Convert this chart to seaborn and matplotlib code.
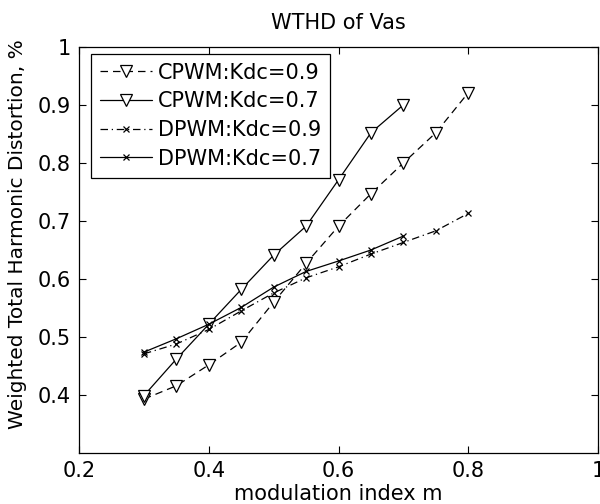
import matplotlib
matplotlib.use("Agg")
import matplotlib.pyplot as plt
import seaborn as sns
import pandas as pd

m_cpwm09 = [0.30, 0.35, 0.40, 0.45, 0.50, 0.55, 0.60, 0.65, 0.70, 0.75, 0.80]
cpwm09 = [0.393, 0.416, 0.452, 0.491, 0.560, 0.627, 0.691, 0.747, 0.800, 0.852, 0.921]
m_cpwm07 = [0.30, 0.35, 0.40, 0.45, 0.50, 0.55, 0.60, 0.65, 0.70]
cpwm07 = [0.399, 0.462, 0.522, 0.582, 0.641, 0.691, 0.771, 0.852, 0.900]
m_dpwm09 = [0.30, 0.35, 0.40, 0.45, 0.50, 0.55, 0.60, 0.65, 0.70, 0.75, 0.80]
dpwm09 = [0.471, 0.488, 0.513, 0.545, 0.576, 0.602, 0.621, 0.643, 0.663, 0.683, 0.713]
m_dpwm07 = [0.30, 0.35, 0.40, 0.45, 0.50, 0.55, 0.60, 0.65, 0.70]
dpwm07 = [0.474, 0.497, 0.522, 0.551, 0.586, 0.613, 0.631, 0.650, 0.674]

labels = ["CPWM:Kdc=0.9", "CPWM:Kdc=0.7", "DPWM:Kdc=0.9", "DPWM:Kdc=0.7"]
xticks = [0.2, 0.4, 0.6, 0.8, 1.0]
xticklabels = ["0.2", "0.4", "0.6", "0.8", "1"]
yticks = [0.4, 0.5, 0.6, 0.7, 0.8, 0.9, 1.0]
yticklabels = ["0.4", "0.5", "0.6", "0.7", "0.8", "0.9", "1"]

sns.set_style("white")
plt.rcParams['font.family'] = ['DejaVu Sans']
plt.rcParams['text.color'] = 'black'
plt.rcParams['axes.labelcolor'] = 'black'
FS = 15

fig = plt.figure(figsize=(6.0, 5.04), dpi=100)
ax = fig.add_axes([0.1317, 0.101, 0.865, 0.806])

series = [
    (m_cpwm09, cpwm09, labels[0], (0, (6, 4)), 'v', 9),
    (m_cpwm07, cpwm07, labels[1], '-', 'v', 9),
    (m_dpwm09, dpwm09, labels[2], (0, (6, 3, 1, 3)), 'x', 5),
    (m_dpwm07, dpwm07, labels[3], '-', 'x', 5),
]
for xs, ys, lab, ls, mk, ms in series:
    df = pd.DataFrame({"m": xs, "v": ys})
    sns.lineplot(data=df, x="m", y="v", ax=ax, color="black", linewidth=0.9,
                 linestyle=ls, marker=mk, markersize=ms, markerfacecolor="white",
                 markeredgecolor="black", markeredgewidth=0.9, label=lab)

ax.set_xlim(0.2, 1.0)
ax.set_ylim(0.3, 1.0)
ax.set_xticks(xticks)
ax.set_xticklabels(xticklabels, fontsize=FS)
ax.set_yticks(yticks)
ax.set_yticklabels(yticklabels, fontsize=FS)
ax.tick_params(direction="in", length=5, width=0.8, top=True, right=True,
               bottom=True, left=True, pad=6, colors="black")
for s in ax.spines.values():
    s.set_color("black")
    s.set_linewidth(0.9)

ax.set_title("WTHD of Vas", fontsize=FS, pad=13, color="black")
ax.set_xlabel("modulation index m", fontsize=FS, labelpad=1.5, color="black")
ax.set_ylabel("Weighted Total Harmonic Distortion, %", fontsize=14.5, color="black")
ax.yaxis.set_label_coords(-0.1, 0.54)

leg = ax.legend(loc="upper left", bbox_to_anchor=(0.023, 0.983), fontsize=FS,
                frameon=True, fancybox=False, edgecolor="black", framealpha=1,
                handlelength=2.5, handletextpad=0.3, borderpad=0.42,
                labelspacing=0.42, borderaxespad=0.0)
leg.get_frame().set_linewidth(0.9)
for t in leg.get_texts():
    t.set_color("black")

fig.savefig("out.png", dpi=100)
